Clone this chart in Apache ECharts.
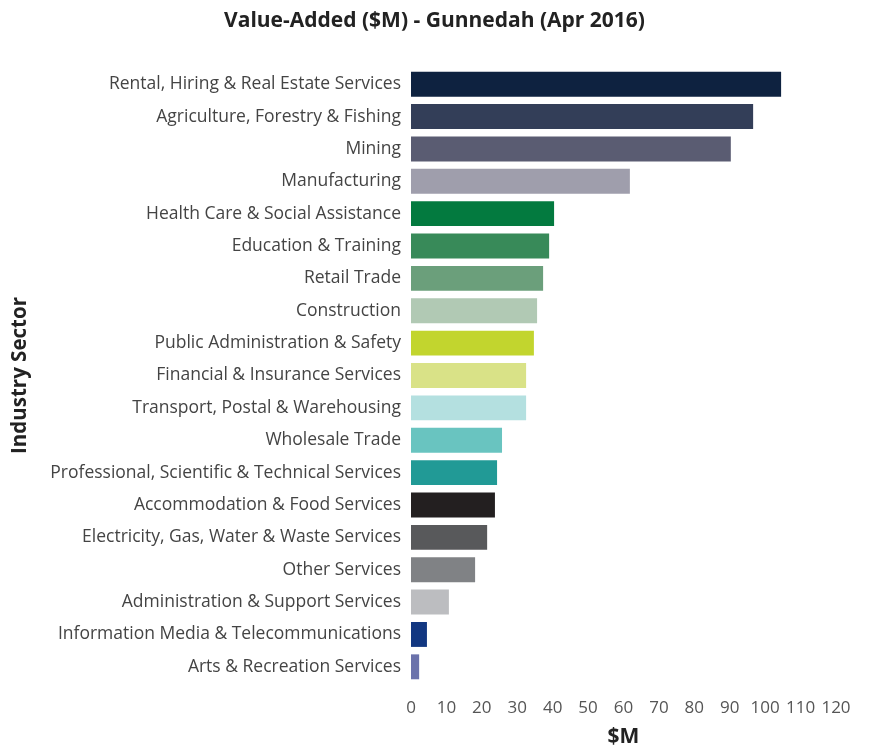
<!DOCTYPE html>
<html><head><meta charset="utf-8">
<script src="https://cdn.jsdelivr.net/npm/echarts@6/dist/echarts.min.js"></script>
<style>html,body{margin:0;padding:0;background:#fff}#c{width:869px;height:753px}</style>
</head><body><div id="c"></div>
<script>
const categories = ["Rental, Hiring & Real Estate Services","Agriculture, Forestry & Fishing","Mining","Manufacturing","Health Care & Social Assistance","Education & Training","Retail Trade","Construction","Public Administration & Safety","Financial & Insurance Services","Transport, Postal & Warehousing","Wholesale Trade","Professional, Scientific & Technical Services","Accommodation & Food Services","Electricity, Gas, Water & Waste Services","Other Services","Administration & Support Services","Information Media & Telecommunications","Arts & Recreation Services"];
const values = [104.5,96.6,90.3,61.8,40.4,39.0,37.3,35.6,34.7,32.5,32.5,25.7,24.3,23.7,21.5,18.1,10.7,4.5,2.3];
const colors = ["#0e2240","#333e58","#5a5c72","#9f9eac","#037a3f","#388a59","#6b9f7b","#b1c9b4","#c2d52e","#d9e287","#b4e0e0","#69c4c0","#219a96","#231f20","#58595b","#808285","#bcbdc0","#123781","#6b72ab"];
const xTicks = {min:0, max:120, interval:10};
const font = "'Open Sans', sans-serif";
const chart = echarts.init(document.getElementById('c'));
chart.setOption({
  animation:false,
  title:{text:"Value-Added ($M) - Gunnedah (Apr 2016)", left:'center', top:6,
    textStyle:{fontFamily:font, fontSize:21, fontWeight:'bold', color:'#222'}},
  grid:{left:411, right:33, top:68, bottom:68, containLabel:false},
  xAxis:{type:'value', min:xTicks.min, max:xTicks.max, interval:xTicks.interval,
    name:'$M', nameLocation:'middle', nameGap:44,
    nameTextStyle:{fontFamily:font, fontSize:21, fontWeight:'bold', color:'#222'},
    axisLine:{show:false}, axisTick:{show:false}, splitLine:{show:false},
    axisLabel:{fontFamily:font, fontSize:17, color:'#555', margin:17}},
  yAxis:{type:'category', inverse:true, data:categories,
    name:'Industry Sector', nameLocation:'middle', nameGap:380, nameRotate:90,
    nameTextStyle:{fontFamily:font, fontSize:20.5, fontWeight:'bold', color:'#222'},
    axisLine:{show:false}, axisTick:{show:false},
    axisLabel:{fontFamily:font, fontSize:17.5, color:'#444', margin:10}},
  series:[{type:'bar', barWidth:'77%',
    data: values.map((v,i)=>({value:v, itemStyle:{color:colors[i]}}))}]
});
</script></body></html>
